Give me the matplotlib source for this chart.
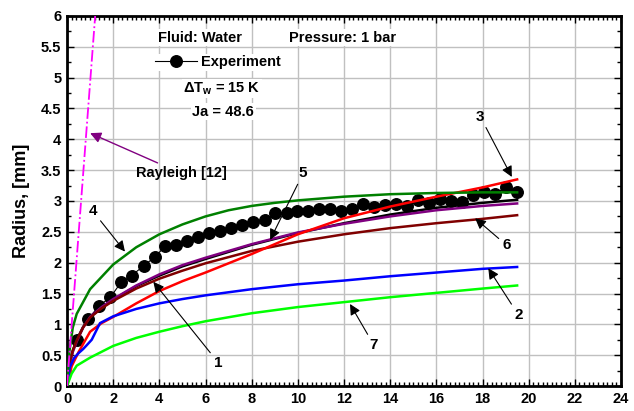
"""Bubble radius growth: experiment vs. growth models."""

import matplotlib

matplotlib.use("Agg")
import matplotlib.pyplot as plt
from matplotlib.ticker import MultipleLocator

plt.rcParams.update(
    {
        "font.family": ["Liberation Sans", "DejaVu Sans"],
        "font.weight": "bold",
        "mathtext.fontset": "custom",
        "mathtext.rm": "Liberation Sans:bold",
        "mathtext.bf": "Liberation Sans:bold",
        "mathtext.default": "bf",
    }
)

# Experiment (time in ms, radius in mm)
exp_t = [0.42, 0.90, 1.39, 1.88, 2.34, 2.80, 3.32, 3.80, 4.26, 4.74, 5.20,
         5.68, 6.15, 6.63, 7.12, 7.58, 8.05, 8.58, 9.03, 9.52, 9.98, 10.46,
         10.92, 11.40, 11.87, 12.35, 12.82, 13.30, 13.78, 14.25, 14.73, 15.21,
         15.68, 16.16, 16.64, 17.11, 17.59, 18.07, 18.54, 19.02, 19.50]
exp_r = [0.75, 1.08, 1.30, 1.44, 1.68, 1.79, 1.95, 2.09, 2.27, 2.29, 2.35,
         2.41, 2.48, 2.52, 2.57, 2.61, 2.66, 2.70, 2.80, 2.81, 2.84, 2.84,
         2.87, 2.87, 2.84, 2.87, 2.95, 2.91, 2.93, 2.95, 2.92, 3.02,
         2.96, 3.03, 3.00, 2.98, 3.10, 3.14, 3.12, 3.22, 3.15]

# Models 1, 5, 6 share one time grid
t_156 = [0, 0.1, 0.25, 0.42, 0.7, 1, 1.5, 2, 3, 4, 5, 6, 8, 10, 12, 14, 16, 18, 19.5]
r_model1 = [0, 0.35, 0.57, 0.75, 0.96, 1.12, 1.27, 1.40, 1.62, 1.79, 1.94,
            2.06, 2.29, 2.48, 2.64, 2.78, 2.89, 2.97, 3.02]
r_model5 = [0, 0.33, 0.55, 0.72, 0.95, 1.12, 1.28, 1.41, 1.63, 1.81, 1.96,
            2.08, 2.30, 2.49, 2.63, 2.75, 2.85, 2.92, 2.96]
r_model6 = [0, 0.36, 0.58, 0.74, 0.95, 1.11, 1.26, 1.38, 1.58, 1.74, 1.87,
            1.99, 2.19, 2.34, 2.46, 2.56, 2.64, 2.71, 2.77]

t_model2 = [0, 0.13, 0.3, 0.49, 0.7, 0.85, 1.07, 1.43, 2, 3, 4, 5, 6, 8, 10,
            12, 14, 16, 18, 19.5]
r_model2 = [0, 0.31, 0.45, 0.53, 0.60, 0.66, 0.75, 1.02, 1.13, 1.25, 1.34,
            1.41, 1.47, 1.57, 1.65, 1.71, 1.78, 1.84, 1.90, 1.93]

t_model3 = [0, 0.2, 0.5, 1, 1.5, 2, 3, 4, 5, 6, 7, 8, 10, 12, 14, 16, 18, 19.5]
r_model3 = [0, 0.32, 0.55, 0.88, 1.02, 1.12, 1.34, 1.54, 1.70, 1.84, 1.99,
            2.14, 2.46, 2.72, 2.91, 3.07, 3.22, 3.35]

t_model4 = [0, 0.1, 0.25, 0.42, 1, 2, 3, 4, 5, 6, 7, 8, 9, 10, 12, 14, 16,
            18, 19.5]
r_model4 = [0, 0.55, 0.95, 1.17, 1.57, 1.97, 2.25, 2.46, 2.62, 2.75, 2.85,
            2.92, 2.97, 3.01, 3.07, 3.11, 3.13, 3.14, 3.14]

t_model7 = [0, 0.2, 0.42, 1, 2, 3, 4, 5, 6, 8, 10, 12, 14, 16, 18, 19.5]
r_model7 = [0, 0.20, 0.33, 0.46, 0.65, 0.78, 0.88, 0.97, 1.05, 1.18, 1.28,
            1.36, 1.44, 1.51, 1.58, 1.63]

# Rayleigh inertia-controlled growth is linear in time
t_rayleigh = [0, 1.22]
r_rayleigh = [0, 6.0]

fig = plt.figure(figsize=(6.34, 4.11), dpi=100)
ax = fig.add_axes([0.1057, 0.0608, 0.8738, 0.9003])

exp_line, = ax.plot(exp_t, exp_r, color="black", lw=0.8, marker="o",
                    markersize=8.3, zorder=3)

lw = 1.8
ax.plot(t_156, r_model1, color="black", lw=lw, zorder=4)
ax.plot(t_156, r_model5, color="#800080", lw=lw, zorder=4)
ax.plot(t_156, r_model6, color="#800000", lw=lw, zorder=4)
ax.plot(t_model3, r_model3, color="#ff0000", lw=lw, zorder=4)
ax.plot(t_model2, r_model2, color="#0000ff", lw=lw, zorder=4)
ax.plot(t_model7, r_model7, color="#00ff00", lw=lw, zorder=4)
ax.plot(t_model4, r_model4, color="#008000", lw=lw, zorder=4)
ax.plot(t_rayleigh, r_rayleigh, color="#ff00ff", lw=1.3, ls="-.", zorder=4)

ax.set_xlim(0, 24)
ax.set_ylim(0, 6)
ax.xaxis.set_major_locator(MultipleLocator(2))
ax.xaxis.set_minor_locator(MultipleLocator(0.2))
ax.yaxis.set_major_locator(MultipleLocator(0.5))
ax.yaxis.set_minor_locator(MultipleLocator(0.25))
ax.yaxis.set_major_formatter(plt.FuncFormatter(lambda v, p: f"{v:g}"))
ax.grid(True, which="major", color="#c0c0c0", lw=1.0, zorder=0)
ax.set_axisbelow(True)
ax.tick_params(which="both", direction="in", top=True, right=True,
               labelsize=10.5, width=1.0)
ax.tick_params(which="major", length=5, pad=4)
ax.tick_params(which="minor", length=3)
for s in ax.spines.values():
    s.set_linewidth(2.0)

ax.set_ylabel("Radius, [mm]", fontsize=13, fontweight="bold", labelpad=8)

box = dict(facecolor="white", edgecolor="none", pad=1.0)
txt = dict(fontsize=10.5, fontweight="bold", ha="center", va="center",
           bbox=box, zorder=6)
ax.text(5.76, 5.65, "Fluid: Water", **txt)
ax.text(11.94, 5.65, "Pressure: 1 bar", **txt)
ax.text(6.70, 4.82, "\u0394T$_w$ = 15 K", **txt)
ax.text(6.77, 4.45, "Ja = 48.6", **txt)

leg = ax.legend([exp_line], ["Experiment"], loc="center",
                bbox_to_anchor=(6.52, 5.25), bbox_transform=ax.transData,
                frameon=True, fancybox=False, framealpha=1.0,
                borderpad=0.1, handlelength=2.9, handletextpad=0.25,
                prop={"size": 10.5, "weight": "bold"})
leg.get_frame().set_edgecolor("none")
leg.set_zorder(6)

# Curve labels with arrows pointing to each model
arrow = dict(arrowstyle="-|>", color="black", lw=0.8, mutation_scale=16,
             shrinkA=1, shrinkB=0)
labels = [
    ("1", (6.55, 0.38), (3.74, 1.69)),
    ("2", (19.56, 1.15), (18.25, 1.91)),
    ("3", (17.90, 4.37), (19.27, 3.39)),
    ("4", (1.11, 2.84), (2.51, 2.18)),
    ("5", (10.23, 3.45), (8.80, 2.37)),
    ("6", (19.05, 2.28), (17.68, 2.72)),
    ("7", (13.30, 0.66), (12.26, 1.33)),
]
for text, pos, tip in labels:
    ax.annotate(text, xy=tip, xytext=pos, fontsize=11, fontweight="bold",
                ha="center", va="center", arrowprops=arrow, zorder=7)

ax.annotate("Rayleigh [12]", xy=(1.0, 4.10), xytext=(4.94, 3.45),
            fontsize=10.5, fontweight="bold", ha="center", va="center",
            arrowprops=dict(arrowstyle="-|>", color="#800080", lw=1.0,
                            mutation_scale=16, shrinkA=1, shrinkB=0),
            zorder=7)

fig.savefig("out.png", dpi=100)
